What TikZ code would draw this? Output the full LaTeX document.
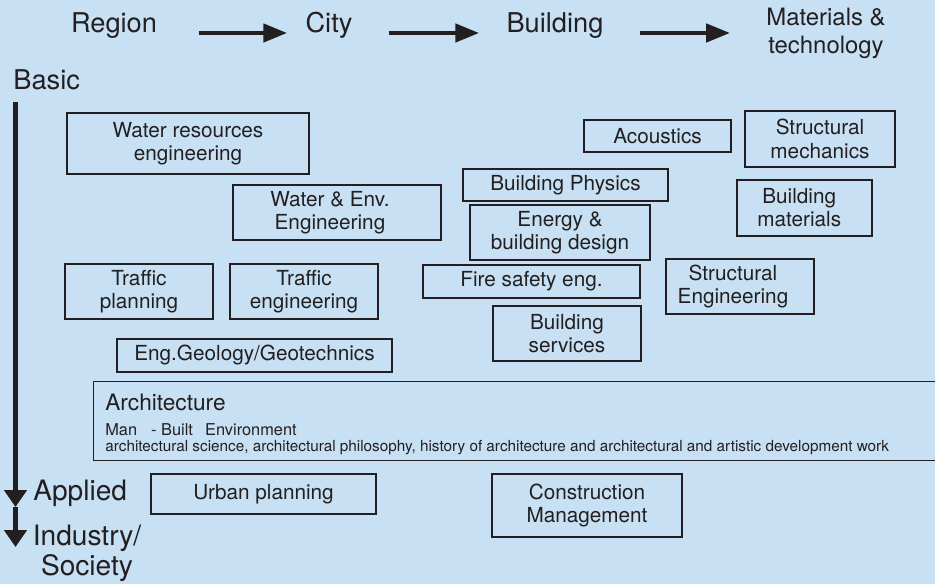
\documentclass[tikz,border=0pt]{standalone}
\usepackage{fontspec}
\setmainfont{TeX Gyre Heros}
\usetikzlibrary{arrows.meta}

\definecolor{bgblue}{RGB}{199,224,243}
\definecolor{ink}{RGB}{35,31,32}

\newcommand{\boxfont}{\fontsize{11.8}{13.2}\selectfont}
\newcommand{\headfont}{\fontsize{15.5}{18}\selectfont}
\newcommand{\sidefont}{\fontsize{16}{17}\selectfont}

\tikzset{
  field/.style={draw=ink, line width=0.7pt, align=center, inner sep=0pt, text=ink, font=\boxfont},
  sz/.style 2 args={minimum width=#1*0.02cm, minimum height=#2*0.02cm},
  head/.style={inner sep=0pt, text=ink, font=\headfont},
  flow/.style={draw=ink, line width=2.6pt, -{Triangle[length=13.6pt,width=10.2pt]}},
  vflow/.style={draw=ink, line width=2.8pt, -{Triangle[length=9.6pt,width=12.5pt]}},
}

\begin{document}
\begin{tikzpicture}[x=0.02cm, y=-0.02cm]
\fill[bgblue] (0,0) rectangle (935,584);
\useasboundingbox (0,0) rectangle (935,584);

% scale headings
\node[head, anchor=base] (region) at (114,33) {Region};
\node[head, anchor=base] (city) at (329,33) {City};
\node[head, anchor=base] (bldg) at (555,33) {Building};
\node[head, align=center, font=\fontsize{13.6}{15.9}\selectfont] (mat) at (826,33) {Materials \&\\technology};

\draw[flow] ([xshift=0.83cm]region.base east) -- ([xshift=-0.36cm]city.base west);
\draw[flow] ([xshift=0.72cm]city.base east) -- ([xshift=-0.54cm]bldg.base west);
\draw[flow] ([xshift=0.72cm]bldg.base east) -- ([xshift=-0.72cm]mat.west);

% basic -> applied axis
\node[head, anchor=base west] (basic) at (13,90) {Basic};
\node[head, anchor=base west, font=\sidefont] (applied) at (33,500) {Applied};
\node[head, align=center, font=\sidefont] (industry) at (87,553) {Industry/\\Society};

\coordinate (vtop) at (15.5,102);
\coordinate (vmid) at (15.5,507);
\coordinate (vend) at (15.5,547);
\draw[vflow] (vtop) -- (vmid);
\draw[vflow] (vmid) -- (vend);

% region / city fields
\node[field, sz={242}{61}] (wre) at (188,143.5) {Water resources\\engineering};
\node[field, sz={208}{55}] (wee) at (337,212.5) {Water \& Env.\hspace*{8pt}\\Engineering\hspace*{8pt}};
\node[field, sz={148}{55}] (tpl) at (139,291.5) {Traffic\\planning};
\node[field, sz={148}{55}] (ten) at (304,291.5) {Traffic\\engineering};
\node[field, sz={275}{33}] (geo) at (254.5,355.5) {Eng.Geology/Geotechnics};

% building / materials fields
\node[field, sz={147}{32}] (aco) at (657.5,136) {Acoustics};
\node[field, sz={150}{56}] (smech) at (820,139) {Structural\\mechanics};
\node[field, sz={205}{32}] (bphys) at (565.5,185) {Building Physics};
\node[field, sz={180}{55}] (energy) at (560,232.5) {Energy \&\\building design};
\node[field, sz={135}{56}] (bmat) at (804.5,208) {Building\hspace*{6pt}\\materials\hspace*{6pt}};
\node[field, sz={217}{33}] (fire) at (531.5,281.5) {Fire safety eng.};
\node[field, sz={148}{55}] (seng) at (740,286.5) {Structural\hspace*{8pt}\\Engineering\hspace*{8pt}};
\node[field, sz={148}{55}] (bserv) at (567,333.5) {Building\\services};

% architecture band
\node[field, anchor=north west, sz={870}{79}] (arch) at (93,381) {};
\node[head, anchor=base west, font=\fontsize{12.9}{14}\selectfont] (archt) at ([shift={(12,29)}]arch.north west) {Architecture};
\node[head, anchor=base west, font=\fontsize{9.3}{10}\selectfont] (archman) at ([shift={(12,54)}]arch.north west) {Man\hspace{8pt}-~Built\hspace{7pt}Environment};
\node[head, anchor=base west, font=\fontsize{8.7}{9}\selectfont] (archsub) at ([shift={(12,70)}]arch.north west) {architectural science, architectural philosophy, history of architecture and architectural and artistic development work};

% applied fields
\node[field, sz={225}{40}] (urban) at (263.5,494) {Urban planning};
\node[field, sz={190}{63}] (cm) at (587,505.5) {Construction\\Management};

\end{tikzpicture}
\end{document}
